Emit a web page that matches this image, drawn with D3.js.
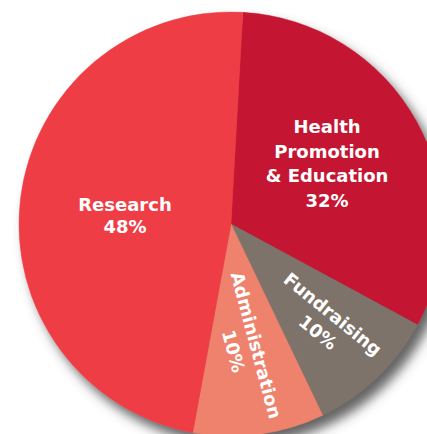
<!DOCTYPE html>
<html>
<head>
<meta charset="utf-8">
<script src="https://cdn.jsdelivr.net/npm/d3@7"></script>
<style>
  html, body { margin: 0; padding: 0; background: #fff; overflow: hidden; }
  svg { display: block; }
</style>
</head>
<body>
<svg id="chart" width="427" height="434"></svg>
<script>
// ---- data ----
const categories = ["Health Promotion & Education", "Fundraising", "Administration", "Research"];
const values = [32, 10, 10, 48];
const labelLines = [
  ["Health", "Promotion", "& Education", "32%"],
  ["Fundraising", "10%"],
  ["Administration", "10%"],
  ["Research", "48%"]
];
const colors = ["#C41230", "#7E736B", "#EF826C", "#EF3E44"];
// label placement (style): radius from centre, angle shift from slice mid (deg), rotation, line height
const labelRadius = [113.5, 137, 125, 106.4];
const labelShift = [-3, 0, 1.2, -2.1];
const labelRotate = [0, 39, 75, 0];
const labelLineH = [25, 23.5, 23.5, 22.3];

// ---- layout ----
const svg = d3.select("#chart");
const cx = 231, cy = 224, R = 212;
const startDeg = 3.2;
const rad = Math.PI / 180;

const defs = svg.append("defs");
const f = defs.append("filter").attr("id", "shadow")
  .attr("x", "-20%").attr("y", "-20%").attr("width", "150%").attr("height", "150%");
f.append("feDropShadow").attr("dx", 7).attr("dy", 9).attr("stdDeviation", 6)
  .attr("flood-color", "#4a4a4a").attr("flood-opacity", 0.85);

const pie = d3.pie().sort(null).value(d => d)
  .startAngle(startDeg * rad)
  .endAngle(startDeg * rad + 2 * Math.PI);
const arcs = pie(values);
const arc = d3.arc().innerRadius(0).outerRadius(R);

const g = svg.append("g").attr("transform", `translate(${cx},${cy})`);
const slices = g.append("g").attr("filter", "url(#shadow)");
slices.selectAll("path").data(arcs).join("path")
  .attr("d", arc)
  .attr("fill", (d, i) => colors[i])
  .attr("stroke", (d, i) => colors[i])
  .attr("stroke-width", 0.5);

arcs.forEach((d, i) => {
  const la = d3.arc().innerRadius(labelRadius[i]).outerRadius(labelRadius[i]);
  const mid = (d.startAngle + d.endAngle) / 2 + labelShift[i] * rad;
  const [x, y] = la.centroid({ startAngle: mid, endAngle: mid });
  const lines = labelLines[i];
  const L = labelLineH[i];
  const t = g.append("text")
    .attr("transform", `translate(${x},${y}) rotate(${labelRotate[i]})`)
    .attr("text-anchor", "middle")
    .attr("fill", "#fff")
    .style("font-family", "'DejaVu Sans', sans-serif")
    .style("font-weight", 700)
    .style("font-size", "18px");
  lines.forEach((s, j) => {
    t.append("tspan")
      .attr("x", 0)
      .attr("y", (j - (lines.length - 1) / 2) * L)
      .attr("dy", "0.36em")
      .text(s);
  });
});
</script>
</body>
</html>
